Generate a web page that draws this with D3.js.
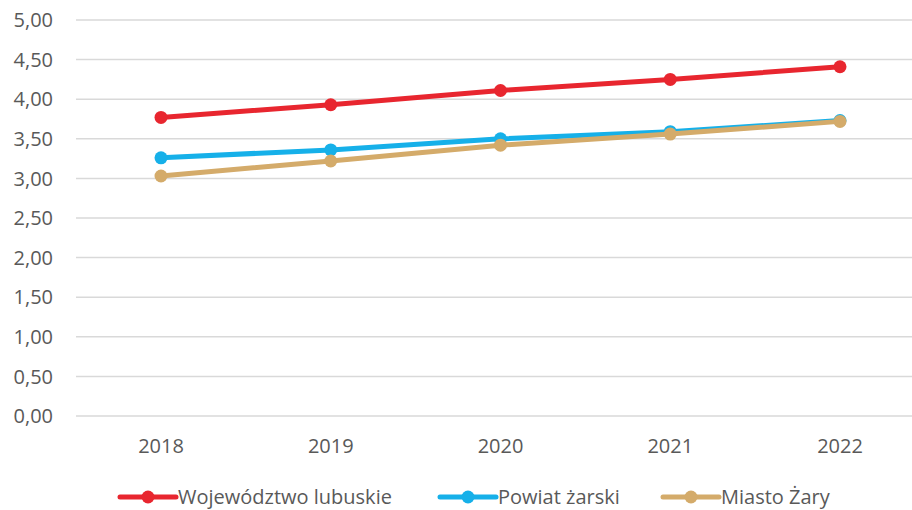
<!DOCTYPE html>
<html>
  <head>
    <meta charset="UTF-8" />
    <title>Wykres</title>
    <script src="https://d3js.org/d3.v7.min.js"></script>
    <style>
      body { margin: 0; background: #fff; }
      text { font-family: "Open Sans", "Liberation Sans", sans-serif; fill: #595959; }
      .grid line { stroke: #d9d9d9; stroke-width: 1.5px; }
    </style>
  </head>
  <body>
    <svg id="chart" width="912" height="510"></svg>
    <script>
      // data
      var years = ['2018', '2019', '2020', '2021', '2022'];
      var wojewodztwo = [3.77, 3.93, 4.11, 4.25, 4.41];
      var powiat = [3.26, 3.36, 3.50, 3.59, 3.73];
      var miasto = [3.03, 3.22, 3.42, 3.56, 3.72];
      var yTicks = [0, 0.5, 1, 1.5, 2, 2.5, 3, 3.5, 4, 4.5, 5];

      var series = [
        { name: 'Województwo lubuskie', values: wojewodztwo, color: '#e8262f' },
        { name: 'Powiat żarski', values: powiat, color: '#16b0e9' },
        { name: 'Miasto Żary', values: miasto, color: '#d4ab6a' }
      ];

      var svg = d3.select('#chart');

      var x = d3.scalePoint().domain(years).range([161, 840]);
      var y = d3.scaleLinear().domain([0, 5]).range([416, 20]);

      // gridlines
      svg.append('g')
        .attr('class', 'grid')
        .selectAll('line')
        .data(yTicks)
        .enter()
        .append('line')
        .attr('x1', 76)
        .attr('x2', 912)
        .attr('y1', function (d) { return y(d); })
        .attr('y2', function (d) { return y(d); });

      // y labels
      svg.append('g')
        .selectAll('text')
        .data(yTicks)
        .enter()
        .append('text')
        .attr('x', 53)
        .attr('y', function (d) { return y(d); })
        .attr('dy', '0.36em')
        .attr('text-anchor', 'end')
        .style('font-size', '20px')
        .text(function (d) { return d.toFixed(2).replace('.', ','); });

      // x labels
      svg.append('g')
        .selectAll('text')
        .data(years)
        .enter()
        .append('text')
        .attr('x', function (d) { return x(d); })
        .attr('y', 446)
        .attr('dy', '0.36em')
        .attr('text-anchor', 'middle')
        .style('font-size', '20px')
        .text(function (d) { return d; });

      var line = d3.line()
        .x(function (d, i) { return x(years[i]); })
        .y(function (d) { return y(d); });

      series.forEach(function (s) {
        var g = svg.append('g');
        g.append('path')
          .attr('d', line(s.values))
          .attr('fill', 'none')
          .attr('stroke', s.color)
          .attr('stroke-width', 5)
          .attr('stroke-linecap', 'round');
        g.selectAll('circle')
          .data(s.values)
          .enter()
          .append('circle')
          .attr('cx', function (d, i) { return x(years[i]); })
          .attr('cy', function (d) { return y(d); })
          .attr('r', 6.5)
          .attr('fill', s.color);
      });

      // legend
      var legendX = [120, 440, 663];
      var legend = svg.append('g');
      series.forEach(function (s, i) {
        var lx = legendX[i];
        legend.append('line')
          .attr('x1', lx).attr('x2', lx + 56)
          .attr('y1', 497).attr('y2', 497)
          .attr('stroke', s.color)
          .attr('stroke-width', 5)
          .attr('stroke-linecap', 'round');
        legend.append('circle')
          .attr('cx', lx + 28).attr('cy', 497)
          .attr('r', 6.5)
          .attr('fill', s.color);
        legend.append('text')
          .attr('x', lx + 58)
          .attr('y', 497)
          .attr('dy', '0.33em')
          .style('font-size', '20px')
          .text(s.name);
      });
    </script>
  </body>
</html>
